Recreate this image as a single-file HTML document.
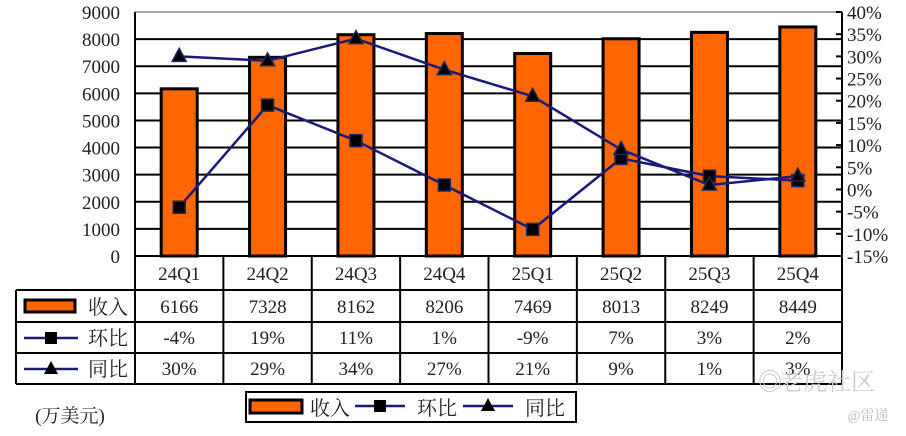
<!DOCTYPE html>
<html><head><meta charset="utf-8">
<style>
html,body{margin:0;padding:0;background:#fff;}
svg{display:block;font-family:"Liberation Serif","Noto Serif CJK SC",serif;}
</style></head>
<body>
<svg id="chart" width="906" height="436" viewBox="0 0 906 436" xmlns="http://www.w3.org/2000/svg"></svg>
<script>
const categories = ["24Q1","24Q2","24Q3","24Q4","25Q1","25Q2","25Q3","25Q4"];
const revenue = [6166,7328,8162,8206,7469,8013,8249,8449];
const qoq = [-4,19,11,1,-9,7,3,2];
const yoy = [30,29,34,27,21,9,1,3];
const qoqLabels = ["-4%","19%","11%","1%","-9%","7%","3%","2%"];
const yoyLabels = ["30%","29%","34%","27%","21%","9%","1%","3%"];
const leftTicks = [0,1000,2000,3000,4000,5000,6000,7000,8000,9000];
const rightTicks = [-15,-10,-5,0,5,10,15,20,25,30,35,40];

const NS="http://www.w3.org/2000/svg";
const svg=document.getElementById('chart');
const L=135,R=842,T=12,B=256;
const cw=(R-L)/categories.length;
const yL=v=>B-(v/9000)*(B-T);
const yR=v=>B-((v+15)/55)*(B-T);
const xC=i=>L+cw*(i+0.5);
function el(tag,attrs,parent){const e=document.createElementNS(NS,tag);for(const k in attrs)e.setAttribute(k,attrs[k]);(parent||svg).appendChild(e);return e;}
function txt(x,y,s,anchor,size,fill){const t=el('text',{x:x,y:y,'text-anchor':anchor||'middle','font-size':size||19,fill:fill||'#222'});t.textContent=s;return t;}

leftTicks.forEach(v=>{if(v===0)return;const g=el('line',{x1:L,x2:R,y1:yL(v),y2:yL(v),stroke:v===9000?'#888':'#000','stroke-width':v===9000?1.5:2});

});
leftTicks.forEach(v=>{const t=txt(120,yL(v)+7,String(v),'end',19);

});
el('line',{x1:R,x2:R,y1:T,y2:B,stroke:'#000','stroke-width':2});
rightTicks.forEach(v=>{el('line',{x1:R-6,x2:R,y1:yR(v),y2:yR(v),stroke:'#000','stroke-width':2});
const t=txt(847,yR(v)+7,v+'%','start',19);

});
el('line',{x1:L,x2:L,y1:T,y2:B,stroke:'#000','stroke-width':2});

revenue.forEach((v,i)=>{const b=el('rect',{x:xC(i)-18,y:yL(v),width:36,height:B-yL(v),fill:'#ff6600',stroke:'#000','stroke-width':3});

});

function series(vals,name,marker){
 const pts=vals.map((v,i)=>xC(i)+','+yR(v)).join(' ');
 const p=el('polyline',{points:pts,fill:'none',stroke:'#1a1a7a','stroke-width':2.5});
 
 
 vals.forEach((v,i)=>{let m;const x=xC(i),y=yR(v);
  if(marker==='sq')m=el('rect',{x:x-6,y:y-6,width:12,height:12,fill:'#000',stroke:'#1a2a5a','stroke-width':1.5});
  else m=el('polygon',{points:`${x},${y-8} ${x-7},${y+5} ${x+7},${y+5}`,fill:'#000',stroke:'#1a2a5a','stroke-width':1.5});
  
  });
}
series(qoq,'qoq','sq');
series(yoy,'yoy','tri');

const rows=[256,290,322,353,384];
el('line',{x1:L,x2:R,y1:B,y2:B,stroke:'#000','stroke-width':2});
for(let r=1;r<rows.length;r++)el('line',{x1:16,x2:R,y1:rows[r],y2:rows[r],stroke:'#000','stroke-width':2});
el('line',{x1:16,x2:16,y1:rows[1],y2:rows[4],stroke:'#000','stroke-width':2});
for(let i=0;i<=categories.length;i++)el('line',{x1:L+cw*i,x2:L+cw*i,y1:B,y2:rows[4],stroke:'#000','stroke-width':2});
categories.forEach((c,i)=>{
 let t=txt(xC(i),280,c);
 t=txt(xC(i),313,String(revenue[i]));
 t=txt(xC(i),344,qoqLabels[i]);
 t=txt(xC(i),375,yoyLabels[i]);
});
el('rect',{x:25,y:300,width:50,height:12,fill:'#ff6600',stroke:'#000','stroke-width':3});
txt(108,314,'收入','middle',20);
el('line',{x1:24,x2:78,y1:338,y2:338,stroke:'#1a1a7a','stroke-width':2.5});
el('rect',{x:45,y:332,width:12,height:12,fill:'#000'});
txt(108,345,'环比','middle',20);
el('line',{x1:24,x2:78,y1:369,y2:369,stroke:'#1a1a7a','stroke-width':2.5});
el('polygon',{points:'51,361 44,374 58,374',fill:'#000'});
txt(108,376,'同比','middle',20);

const lg=el('g',{});


el('rect',{x:246,y:392,width:330,height:30,fill:'#fff',stroke:'#000','stroke-width':2},lg);
el('rect',{x:250,y:400,width:52,height:13,fill:'#ff6600',stroke:'#000','stroke-width':3},lg);
txt(330,415,'收入','middle',20);
el('line',{x1:355,x2:405,y1:406,y2:406,stroke:'#1a1a7a','stroke-width':2.5},lg);
el('rect',{x:374,y:400,width:12,height:12,fill:'#000'},lg);
txt(437,415,'环比','middle',20);
el('line',{x1:463,x2:513,y1:406,y2:406,stroke:'#1a1a7a','stroke-width':2.5},lg);
el('polygon',{points:'488,398 481,411 495,411',fill:'#000'},lg);
txt(545,415,'同比','middle',20);

const u=txt(70,422,'(万美元)','middle',19);


txt(770,390,'◎','middle',24,'#ccc');
txt(827,390,'老虎社区','middle',24,'#ccc');
txt(868,420,'@雷递','middle',14,'#bbb');
</script>
</body></html>
